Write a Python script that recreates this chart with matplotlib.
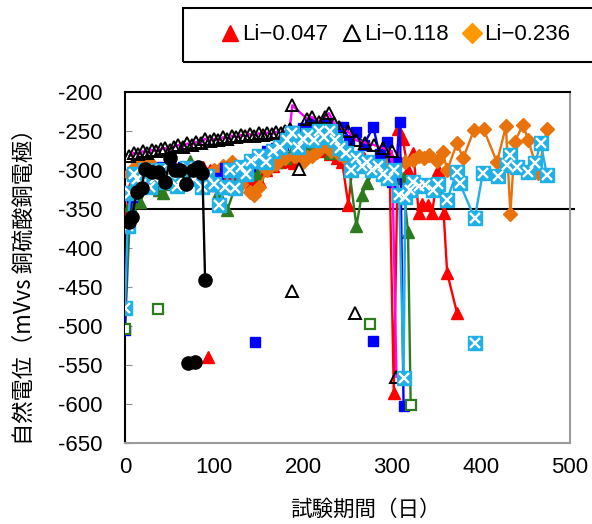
import matplotlib.pyplot as plt
from matplotlib.lines import Line2D
from matplotlib.patches import Rectangle

plt.rcParams["font.family"] = ["Liberation Sans", "Noto Sans CJK JP", "DejaVu Sans"]
plt.rcParams["axes.unicode_minus"] = False

# Li-0.047 (red filled triangles)
red_days = [0, 4, 8, 12, 16, 20, 25, 30, 35, 40, 46, 52, 58, 64, 70, 76, 82, 88, 95,
            102, 110, 118, 126, 134, 142, 150, 158, 166, 174, 182, 190, 198, 206, 214,
            222, 230, 238, 244, 251, 256, 262, 268, 274, 280, 286, 292, 297, 302, 307,
            312, 318, 324, 330, 334, 341, 345, 352, 358, 362, 373]
red_mv = [-372, -330, -318, -310, -305, -300, -298, -296, -300, -302, -298, -296, -300,
          -305, -302, -300, -298, -296, -300, -305, -310, -306, -312, -316, -318, -313,
          -300, -295, -290, -288, -291, -282, -278, -272, -276, -280, -285, -290, -345,
          -290, -282, -285, -290, -300, -296, -285, -280, -586, -248, -260, -300, -278,
          -355, -343, -345, -355, -300, -355, -432, -483]
red_extra_days = [93]
red_extra_mv = [-540]

# Li-0.118 (open triangles, magenta line)
tri_days = [5, 10, 15, 20, 25, 30, 35, 40, 45, 50, 55, 60, 65, 70, 75, 80, 85, 90, 95,
            100, 105, 110, 115, 120, 125, 130, 135, 140, 145, 150, 155, 160, 165, 170,
            175, 180, 185, 188, 205, 210, 218, 225, 229, 235, 240, 250, 260, 270, 280,
            290, 300, 305]
tri_mv = [-282, -278, -280, -276, -278, -274, -276, -273, -272, -274, -270, -268, -270,
          -266, -268, -264, -266, -260, -263, -260, -262, -258, -260, -256, -258, -255,
          -257, -254, -256, -253, -255, -252, -254, -251, -253, -250, -248, -217, -235,
          -232, -238, -232, -227, -240, -245, -250, -262, -265, -268, -272, -276, -565]
tri_extra_days = [188, 195, 258]
tri_extra_mv = [-455, -299, -483]

# Li-0.236 (orange diamonds)
ora_days = [5, 10, 15, 20, 25, 30, 40, 50, 60, 70, 80, 90, 100, 110, 120, 130, 140, 145,
            150, 160, 170, 180, 190, 195, 200, 204, 210, 216, 225, 232, 240, 248, 256,
            265, 275, 285, 295, 305, 315, 324, 330, 336, 342, 350, 357, 362, 373, 380,
            392, 403, 418, 428, 433, 438, 447, 453, 464, 474]
ora_mv = [-305, -298, -292, -296, -290, -294, -300, -305, -312, -298, -306, -310, -300,
          -295, -290, -318, -328, -332, -322, -300, -292, -285, -282, -281, -290, -283,
          -282, -277, -268, -275, -280, -286, -290, -295, -292, -298, -290, -292, -290,
          -287, -282, -285, -281, -288, -277, -300, -266, -285, -249, -248, -290, -244,
          -356, -264, -242, -261, -304, -248]

# blue filled squares
blu_days = [0, 3, 8, 12, 18, 24, 30, 36, 42, 50, 58, 65, 72, 80, 88, 96, 104, 112, 120,
            130, 140, 150, 160, 170, 178, 185, 192, 200, 208, 216, 227, 235, 245, 252,
            260, 268, 279, 286, 294, 300, 305, 309, 313]
blu_mv = [-505, -370, -335, -322, -318, -310, -315, -300, -296, -305, -300, -296, -310,
          -305, -315, -320, -310, -298, -302, -300, -295, -290, -275, -272, -268, -258,
          -250, -246, -240, -248, -242, -250, -245, -262, -251, -268, -245, -280, -264,
          -315, -290, -238, -603]
blu_extra_days = [146, 279]
blu_extra_mv = [-520, -519]

# dark green series (triangles, open squares at both ends)
grn_days = [0, 6, 12, 17, 25, 32, 38, 43, 50, 58, 65, 73, 80, 88, 95, 105, 115, 125,
            137, 148, 160, 170, 180, 190, 200, 210, 220, 230, 240, 248, 252, 260, 266,
            272, 280, 287, 295, 305, 312, 318, 321]
grn_mv = [-504, -345, -341, -341, -320, -315, -325, -330, -318, -305, -298, -288, -305,
          -320, -315, -330, -351, -318, -297, -305, -295, -290, -285, -270, -268, -275,
          -270, -278, -276, -280, -300, -372, -332, -317, -300, -294, -300, -305, -310,
          -380, -601]
grn_sq_days = [0, 37, 275, 321]
grn_sq_mv = [-504, -478, -497, -601]

# light blue squares with white cross
cya_days = [0, 3, 6, 10, 14, 18, 22, 28, 34, 40, 46, 52, 58, 64, 70, 78, 86, 92, 100,
            106, 112, 118, 124, 130, 136, 142, 150, 158, 166, 174, 182, 188, 194, 200,
            206, 212, 218, 224, 230, 236, 242, 248, 254, 260, 266, 272, 278, 284, 290,
            296, 302, 308, 313, 315, 320, 324, 330, 337, 346, 352, 362, 373, 376, 393,
            402, 419, 429, 433, 440, 453, 461, 467, 474]
cya_mv = [-477, -372, -330, -305, -312, -318, -300, -322, -310, -300, -315, -305, -320,
          -310, -298, -312, -322, -308, -318, -345, -322, -300, -323, -296, -305, -288,
          -282, -290, -276, -270, -262, -252, -270, -260, -255, -262, -250, -258, -250,
          -262, -272, -278, -300, -285, -295, -290, -300, -295, -305, -310, -300, -332,
          -567, -334, -325, -315, -320, -319, -326, -318, -338, -302, -317, -362, -304,
          -308, -293, -281, -296, -302, -291, -265, -306]
cya_extra_days = [393]
cya_extra_mv = [-522]

# black filled circles
blk_days = [4, 8, 13, 19, 22, 30, 37, 45, 51, 56, 62, 69, 76, 82, 87, 90]
blk_mv = [-367, -360, -328, -323, -299, -302, -302, -315, -284, -300, -300, -318, -300,
          -296, -304, -441]
blk_extra_days = [71, 79]
blk_extra_mv = [-548, -546]

RED = "#FF0000"
ORANGE = "#E8720C"
BLUE = "#0000FF"
GREEN = "#2E7A1E"
MAGENTA = "#FF00FF"
CYAN = "#1FB0E6"

fig = plt.figure(figsize=(5.92, 5.24), dpi=100)
ax = fig.add_axes([125 / 592, 81 / 524, 445 / 592, 351 / 524])

lw = 1.7

# red
ax.plot(red_days, red_mv, color=RED, lw=lw, marker="^", ms=8, mec=RED, zorder=3)
ax.plot(red_extra_days, red_extra_mv, ls="none", color=RED, marker="^", ms=8, zorder=3)

# green
ax.plot(grn_days, grn_mv, color=GREEN, lw=lw, zorder=3)
ax.plot(grn_days[1:-1], grn_mv[1:-1], ls="none", color=GREEN, marker="^", ms=8, zorder=3)
ax.plot(grn_sq_days, grn_sq_mv, ls="none", marker="s", ms=7.5, mfc="white",
        mec=GREEN, mew=1.6, zorder=4)

# orange
ax.plot(ora_days, ora_mv, color=ORANGE, lw=lw, marker="D", ms=7.5, mec=ORANGE, zorder=3)

# blue
ax.plot(blu_days, blu_mv, color=BLUE, lw=lw, marker="s", ms=7.5, mec=BLUE, zorder=3.5)
ax.plot(blu_extra_days, blu_extra_mv, ls="none", color=BLUE, marker="s", ms=7.5,
        zorder=3.5)

# open triangles with magenta line
ax.plot(tri_days, tri_mv, color=MAGENTA, lw=lw, marker="^", ms=8, mfc="none",
        mec="black", mew=1.4, zorder=4)
ax.plot(tri_extra_days, tri_extra_mv, ls="none", marker="^", ms=8, mfc="white",
        mec="black", mew=1.4, zorder=4)

# light blue crossed squares
ax.plot(cya_days, cya_mv, color=CYAN, lw=lw, marker="s", ms=9.5, mec=CYAN, zorder=5)
ax.plot(cya_days, cya_mv, ls="none", marker="x", ms=6.5, mec="white", mew=1.7, zorder=5)
ax.plot(cya_extra_days, cya_extra_mv, ls="none", color=CYAN, marker="s", ms=9.5, zorder=5)
ax.plot(cya_extra_days, cya_extra_mv, ls="none", marker="x", ms=6.5, mec="white",
        mew=1.7, zorder=5)

# black circles
ax.plot(blk_days, blk_mv, color="black", lw=lw, marker="o", ms=9.5, zorder=6)
ax.plot(blk_extra_days, blk_extra_mv, ls="none", color="black", marker="o", ms=9.5,
        zorder=6)

# reference level
ax.plot([0, 505], [-350, -350], color="black", lw=1.5, clip_on=False, zorder=2)

ax.set_xlim(0, 500)
ax.set_ylim(-650, -200)
ax.set_xticks(range(0, 501, 100))
ax.set_yticks(range(-650, -199, 50))
ax.tick_params(axis="y", direction="in", length=5, color="#909090", pad=16,
               labelsize=16)
ax.tick_params(axis="x", length=0, pad=10, labelsize=16)

for side in ["top", "left"]:
    ax.spines[side].set_color("black")
    ax.spines[side].set_linewidth(1.5)
for side in ["bottom", "right"]:
    ax.spines[side].set_color("#9A9A9A")
    ax.spines[side].set_linewidth(1.5)

ax.set_ylabel("自然電位（mVvs 銅硫酸銅電極）", fontsize=16,
              family=["Noto Sans CJK JP", "DejaVu Sans"])
ax.yaxis.set_label_coords(-0.2, 0.46)
ax.set_xlabel("試験期間（日）", fontsize=15.5, family=["Noto Sans CJK JP", "DejaVu Sans"])
ax.xaxis.set_label_coords(0.54, -0.16)

# legend box runs off the right edge
fig.patches.append(Rectangle((183 / 592, 462 / 524), 0.75, 54 / 524,
                             transform=fig.transFigure, fill=False,
                             edgecolor="black", lw=1.5))
handles = [
    Line2D([], [], ls="none", marker="^", ms=12, color=RED),
    Line2D([], [], ls="none", marker="^", ms=12, mfc="white", mec="black", mew=1.5),
    Line2D([], [], ls="none", marker="D", ms=10, color="#FF9900"),
]
fig.legend(handles, ["Li−0.047", "Li−0.118", "Li−0.236"], loc="center left",
           bbox_to_anchor=(220 / 592, 489 / 524), ncol=3, frameon=False,
           fontsize=16, handlelength=0.9, handletextpad=0.1, columnspacing=0.6,
           borderaxespad=0, borderpad=0)

fig.savefig("out.png", dpi=100)
